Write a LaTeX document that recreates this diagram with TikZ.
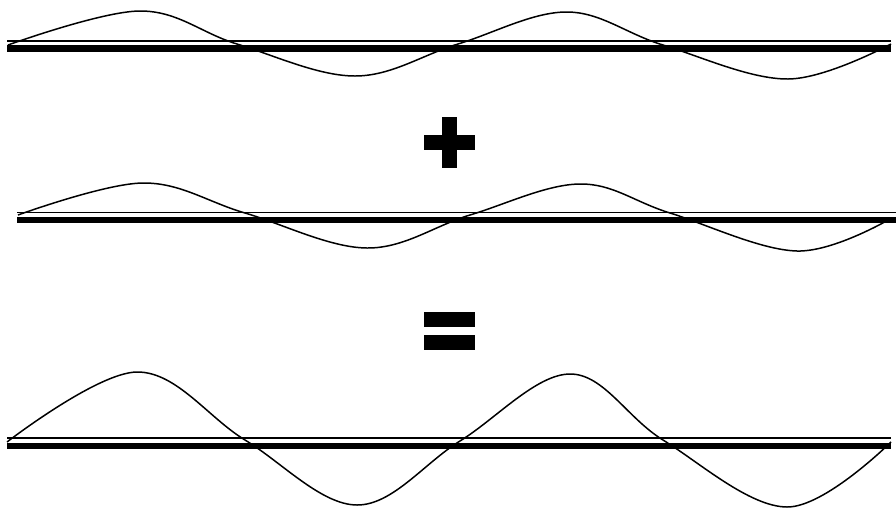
\documentclass[tikz,border=0pt]{standalone}
\begin{document}
\begin{tikzpicture}[x=0.02cm, y=-0.02cm,
    thinline/.style={line width=0.9pt},
    thickline/.style={line width=3.8pt},
    wave/.style={line width=0.85pt, smooth, tension=0.6}]
  \useasboundingbox (0,0) rectangle (896,508);
  % first wave
  \draw[thinline] (7,41) -- (891,41);
  \draw[thickline] (7,48.5) -- (891,48.5);
  \draw[wave] plot coordinates {(8,45) (140,11) (237,44) (355,76)
    (458,44) (567,12) (663,45) (788,79) (891,44)};
  % plus
  \fill (441.7,116.7) rectangle (456.7,167.7);
  \fill (424,135) rectangle (475,150);
  % second wave
  \draw[thinline] (17,212.7) -- (896,212.7);
  \draw[thickline] (17,220) -- (896,220);
  \draw[wave] plot coordinates {(18,215) (143,183) (245,213) (367,248)
    (470,215) (580,184) (670,213) (797,251) (890,219)};
  % equals
  \fill (424,312.3) rectangle (475,327.3);
  \fill (424,335) rectangle (475,350);
  % sum
  \draw[thinline] (7,438) -- (891,438);
  \draw[thickline] (7,446) -- (891,446);
  \draw[wave] plot coordinates {(7,442) (137,372) (245,440) (357,505)
    (460,441) (570,374) (663,440) (787,507) (891,442)};
\end{tikzpicture}
\end{document}
